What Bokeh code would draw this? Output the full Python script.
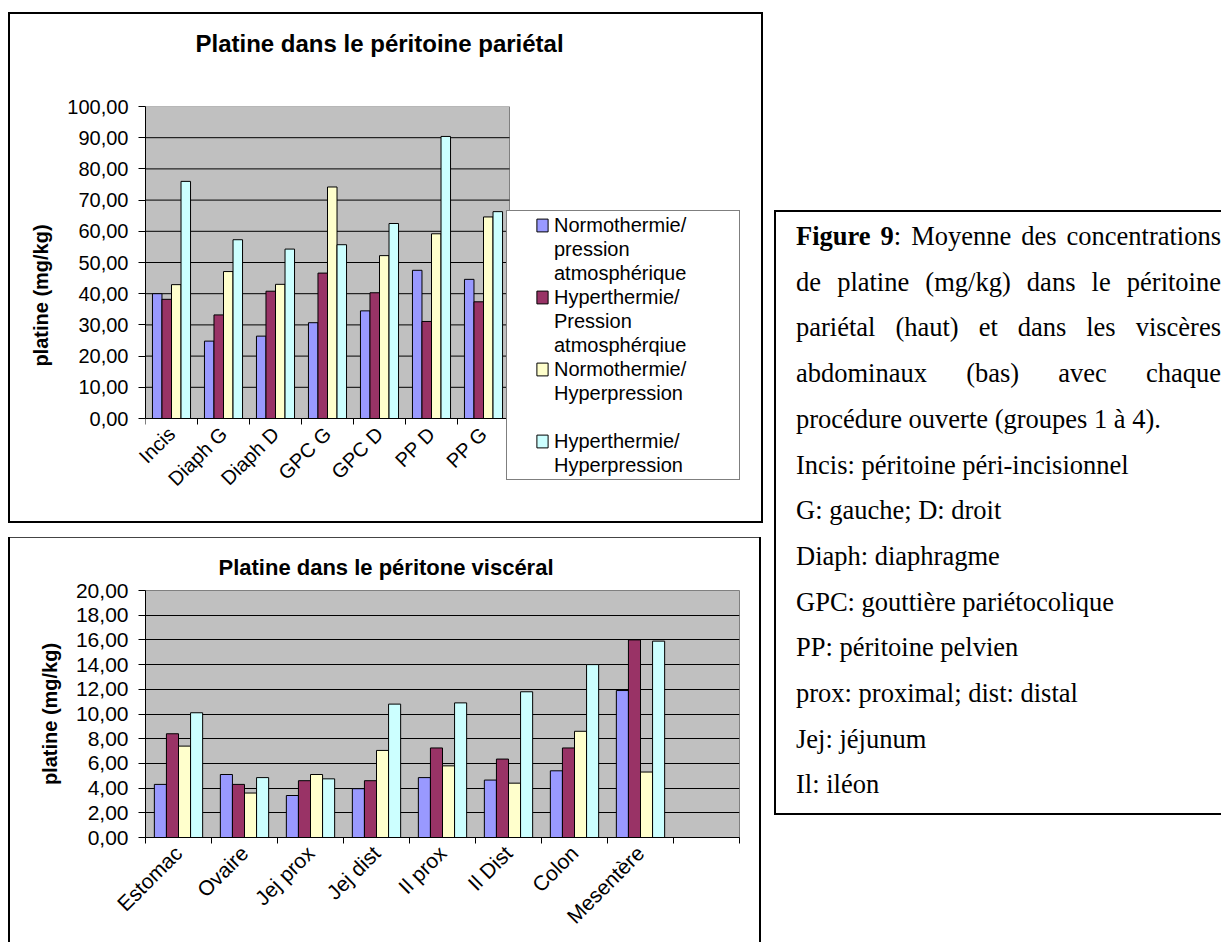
import math
from bokeh.plotting import figure
from bokeh.models import (ColumnDataSource, FixedTicker, Range1d, Legend,
                          LegendItem, Div, Spacer, Title, LinearAxis)
from bokeh.layouts import row, column
from bokeh.embed import file_html
from bokeh.resources import INLINE

# ---------------- data ----------------
top_title = "Platine dans le péritoine pariétal"
top_categories = ["Incis", "Diaph G", "Diaph D", "GPC G", "GPC D", "PP D", "PP G"]
top_normo_atm = [40.0, 24.8, 26.4, 30.7, 34.5, 47.5, 44.6]
top_hyper_atm = [38.2, 33.2, 40.8, 46.6, 40.3, 31.1, 37.4]
top_normo_hyp = [42.9, 47.1, 43.0, 74.2, 52.2, 59.2, 64.6]
top_hyper_hyp = [76.0, 57.3, 54.3, 55.7, 62.5, 90.4, 66.3]
top_y_ticks = [0, 10, 20, 30, 40, 50, 60, 70, 80, 90, 100]
top_y_labels = ["0,00", "10,00", "20,00", "30,00", "40,00", "50,00",
                "60,00", "70,00", "80,00", "90,00", "100,00"]

bottom_title = "Platine dans le péritone viscéral"
bottom_categories = ["Estomac", "Ovaire", "Jej prox", "Jej dist", "Il prox",
                     "Il Dist", "Colon", "Mesentère", ""]
bottom_normo_atm = [4.3, 5.1, 3.4, 3.95, 4.85, 4.65, 5.4, 11.9]
bottom_hyper_atm = [8.4, 4.3, 4.6, 4.6, 7.25, 6.35, 7.25, 16.0]
bottom_normo_hyp = [7.4, 3.6, 5.1, 7.05, 5.8, 4.4, 8.6, 5.3]
bottom_hyper_hyp = [10.1, 4.85, 4.75, 10.8, 10.9, 11.8, 14.0, 15.9]
bottom_y_ticks = [0, 2, 4, 6, 8, 10, 12, 14, 16, 18, 20]
bottom_y_labels = ["0,00", "2,00", "4,00", "6,00", "8,00", "10,00",
                   "12,00", "14,00", "16,00", "18,00", "20,00"]

y_axis_label = "platine (mg/kg)"
legend_lines = [
    ["Normothermie/", "pression", "atmosphérique"],
    ["Hyperthermie/", "Pression", "atmosphérqiue"],
    ["Normothermie/", "Hyperpression", " "],
    ["Hyperthermie/", "Hyperpression"],
]
colors = ["#9999FF", "#993366", "#FFFFCC", "#CCFFFF"]

caption_bold = "Figure 9"
caption_rest = (": Moyenne des concentrations de platine (mg/kg) dans le "
                "péritoine pariétal (haut) et dans les viscères abdominaux "
                "(bas) avec chaque procédure ouverte (groupes 1 à 4).")
definitions = ["Incis: péritoine péri-incisionnel", "G: gauche; D: droit",
               "Diaph: diaphragme", "GPC: gouttière pariétocolique",
               "PP: péritoine pelvien", "prox: proximal; dist: distal",
               "Jej: jéjunum", "Il: iléon"]

SANS = "Liberation Sans"
offsets = [-0.2745, -0.0915, 0.0915, 0.2745]
bar_w = 0.183


def add_bars(p, series):
    rs = []
    for vals, off, col in zip(series, offsets, colors):
        src = ColumnDataSource(dict(x=[i + 1 + off for i in range(len(vals))],
                                    top=vals))
        rs.append(p.vbar(x="x", top="top", width=bar_w, source=src,
                         fill_color=col, line_color="black", line_width=1))
    return rs


def style_x_labels(ax, cats, size):
    ax.major_label_overrides = {i + 1: c for i, c in enumerate(cats)}
    ax.major_label_orientation = math.pi / 4
    ax.major_label_text_font = SANS
    ax.major_label_text_font_size = size
    ax.major_label_text_color = "black"


def style_x_line(ax, n):
    ax.bounds = (0.5, n + 0.5)
    ax.axis_line_color = "black"
    ax.major_tick_line_color = None
    ax.minor_tick_line_color = "black"
    ax.minor_tick_in = 0
    ax.minor_tick_out = 6


def style_y(p, y_max, ticks, labels, size):
    ax = p.yaxis[0]
    ax.bounds = (0, y_max)
    ax.ticker = FixedTicker(ticks=ticks)
    ax.major_label_overrides = {t: l for t, l in zip(ticks, labels)}
    ax.major_tick_in = 0
    ax.major_tick_out = 7
    ax.major_tick_line_color = "black"
    ax.minor_tick_line_color = None
    ax.major_label_standoff = 10
    ax.major_label_text_font = SANS
    ax.major_label_text_font_size = size
    ax.major_label_text_color = "black"
    ax.axis_line_color = "black"
    ax.axis_label = y_axis_label
    ax.axis_label_text_font = SANS
    ax.axis_label_text_font_style = "bold"
    ax.axis_label_text_font_size = "20px"
    ax.axis_label_text_color = "black"
    ax.axis_label_standoff = 12


def style_title(p, text, size, offset, standoff):
    p.title.text = text
    p.title.align = "left"
    p.title.offset = offset
    p.title.vertical_align = "bottom"
    p.title.standoff = standoff
    p.title.text_font = SANS
    p.title.text_font_style = "bold"
    p.title.text_font_size = size
    p.title.text_color = "black"


# ---------------- top chart ----------------
# grey plot area: 364 x 312 px; the frame is extended 232 px to the right and
# 66 px downward so that the legend sits inside it
n1 = len(top_categories)
ux = n1 / 364
uy = 100 / 312
p1 = figure(width=755, height=511, output_backend="svg", toolbar_location=None,
            x_range=Range1d(0.5, n1 + 0.5 + 232 * ux),
            y_range=Range1d(-66 * uy, 100),
            min_border_left=137, min_border_right=22, min_border_top=94,
            min_border_bottom=39)
p1.border_fill_color = None
p1.background_fill_color = None
p1.outline_line_color = None
p1.styles = {"box-shadow": "inset 0 0 0 2px #000"}
p1.grid.visible = False
p1.quad(left=[0.5], right=[n1 + 0.5], bottom=[0], top=[100],
        fill_color="#C0C0C0", line_color="#808080", line_width=1)
gl1 = [t for t in top_y_ticks if 0 < t < 100]
p1.segment(x0=[0.5] * len(gl1), x1=[n1 + 0.5] * len(gl1), y0=gl1, y1=gl1,
           line_color="black", line_width=1)
rs1 = add_bars(p1, [top_normo_atm, top_hyper_atm, top_normo_hyp, top_hyper_hyp])

# axis line + boundary ticks at y = 0
xa = p1.xaxis[0]
xa.fixed_location = 0
xa.ticker = FixedTicker(ticks=list(range(1, n1 + 1)),
                        minor_ticks=[k + 0.5 for k in range(0, n1 + 1)])
xa.major_label_overrides = {i + 1: "" for i in range(n1)}
style_x_line(xa, n1)
# category labels (in the panel below, lifted up to y = 0)
xl = LinearAxis(ticker=FixedTicker(ticks=list(range(1, n1 + 1))),
                bounds=(0.5, n1 + 0.5), axis_line_color=None,
                major_tick_line_color=None, minor_tick_line_color=None,
                major_tick_out=0, major_tick_in=0, minor_tick_out=0,
                major_label_standoff=-54)
style_x_labels(xl, top_categories, "20px")
p1.add_layout(xl, "below")

style_y(p1, 100, top_y_ticks, top_y_labels, "20px")
style_title(p1, top_title, "24px", 50, 0)
p1.add_layout(Title(text=" ", text_font_size="1px", standoff=47), "above")

blank = p1.vbar(x=[], top=[], width=0.1, fill_alpha=0, line_alpha=0)
items = []
for lines, r in zip(legend_lines, rs1):
    for k, ln in enumerate(lines):
        items.append(LegendItem(label=ln, renderers=[r if k == 0 else blank]))
legend = Legend(items=items, location=(361, 4), padding=2, margin=0,
                spacing=0, glyph_width=14, glyph_height=16,
                label_standoff=5, label_width=183, label_height=24,
                label_text_font=SANS, label_text_font_size="20px",
                label_text_color="black",
                title=" ", title_location="left", title_standoff=25,
                title_text_font_size="1px",
                border_line_color="black", border_line_width=1,
                background_fill_color="white", background_fill_alpha=1)
p1.add_layout(legend)

# ---------------- bottom chart ----------------
n2 = len(bottom_categories)
p2 = figure(width=753, height=405, output_backend="svg", toolbar_location=None,
            x_range=Range1d(0.5, n2 + 0.5), y_range=Range1d(0, 20),
            min_border_left=136, min_border_right=2, min_border_top=53,
            min_border_bottom=105)
p2.border_fill_color = None
p2.background_fill_color = "#C0C0C0"
p2.outline_line_color = "#808080"
p2.styles = {"box-shadow": "inset 2px 0 0 0 #000, inset -2px 0 0 0 #000, "
                           "inset 0 1px 0 0 #444"}
rs2 = add_bars(p2, [bottom_normo_atm, bottom_hyper_atm, bottom_normo_hyp,
                    bottom_hyper_hyp])
xb = p2.xaxis[0]
xb.ticker = FixedTicker(ticks=list(range(1, n2 + 1)),
                        minor_ticks=[k + 0.5 for k in range(0, n2 + 1)])
style_x_line(xb, n2)
xb.major_label_standoff = 6
style_x_labels(xb, bottom_categories, "21px")
style_y(p2, 20, bottom_y_ticks, bottom_y_labels, "21px")
p2.xgrid.visible = False
p2.ygrid.ticker = FixedTicker(ticks=bottom_y_ticks)
p2.ygrid.grid_line_color = "black"
p2.ygrid.grid_line_width = 1
style_title(p2, bottom_title, "22px", 73, 22)

# ---------------- caption ----------------
html = ('<div style="box-sizing:border-box;width:447px;height:605px;'
        'border:2px solid #000;border-right:none;padding:2px 0 0 20px;'
        "font-family:'Liberation Serif',serif;font-size:26.5px;"
        'line-height:45.7px;color:#000;">'
        '<div style="text-align:justify;"><b>' + caption_bold + '</b>'
        + caption_rest + '</div>'
        + ''.join('<div>' + d + '</div>' for d in definitions) + '</div>')
div = Div(text=html, width=447, height=605)

layout = row(Spacer(width=8),
             column(Spacer(height=12), p1, Spacer(height=14), p2),
             Spacer(width=6),
             column(Spacer(height=205), div))
open("out.html", "w").write(file_html(layout, INLINE))
